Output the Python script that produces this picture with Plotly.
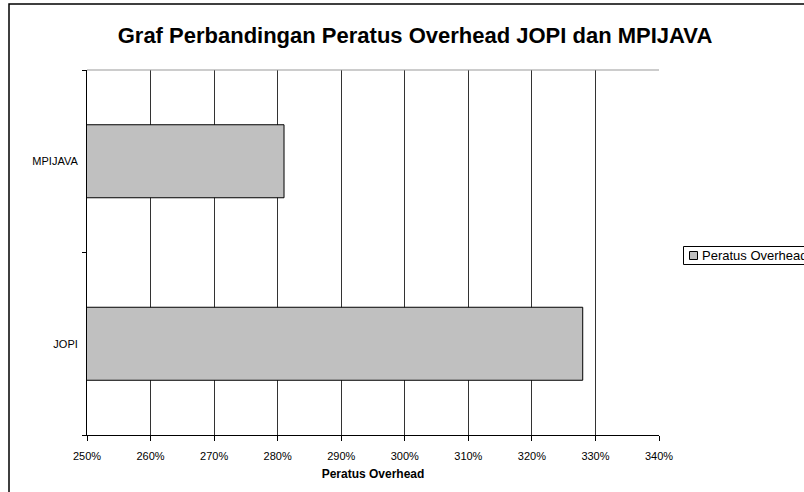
import plotly.graph_objects as go

categories = ["JOPI", "MPIJAVA"]
overhead = [3.28, 2.81]
series_name = "Peratus Overhead"
title_text = "Graf Perbandingan Peratus Overhead JOPI dan MPIJAVA"
x_title = "Peratus Overhead"

L, R, T, B = 87, 145, 70, 57
W, H = 804, 492
pw, ph = W - L - R, H - T - B

def px(x):
    return (x - L) / pw

def py(y):
    return (H - B - y) / ph

fig = go.Figure()
fig.add_trace(go.Bar(
    y=categories, x=overhead, orientation="h", name=series_name,
    marker=dict(color="#C0C0C0", line=dict(color="black", width=1)),
    showlegend=False,
))

font = "Liberation Sans, Arial, sans-serif"
fig.update_layout(
    width=W, height=H,
    margin=dict(l=L, r=R, t=T, b=B),
    paper_bgcolor="white", plot_bgcolor="white",
    bargap=0.6,
    font=dict(family=font, size=11, color="black"),
    title=dict(text="<b>" + title_text + "</b>", x=px(415), xref="paper", xanchor="center",
               y=1 - 35 / H, yanchor="middle", font=dict(size=22, family=font, color="black")),
    xaxis=dict(range=[2.5, 3.4], dtick=0.1, tick0=2.5, tickformat=".0%",
               showgrid=True, gridcolor="#333333", gridwidth=1,
               showline=True, linecolor="black", linewidth=1,
               ticks="outside", ticklen=5, tickcolor="black",
               ticklabelstandoff=6,
               zeroline=False,
               title=dict(text="<b>" + x_title + "</b>", standoff=8, font=dict(size=12)),
               tickfont=dict(size=11)),
    yaxis=dict(type="category", showgrid=False, showline=True, linecolor="black", linewidth=1,
               ticks="outside", ticklen=4, tickcolor="black", tickson="boundaries",
               ticklabelstandoff=6, tickfont=dict(size=11)),
    shapes=[
        # outer chart border (clipped by window)
        dict(type="rect", xref="paper", yref="paper", x0=px(9), x1=px(1000), y0=py(600), y1=py(4),
             line=dict(color="black", width=1.5), fillcolor="rgba(0,0,0,0)", layer="below"),
        # top plot-area edge
        dict(type="line", xref="paper", yref="paper", x0=0, x1=1, y0=1, y1=1,
             line=dict(color="#999999", width=1)),
        # legend box
        dict(type="rect", xref="paper", yref="paper", x0=px(683.5), x1=px(900), y0=py(264.5), y1=py(246.5),
             line=dict(color="black", width=1), fillcolor="white"),
        # legend marker
        dict(type="rect", xref="paper", yref="paper", x0=px(689.5), x1=px(697.5), y0=py(259.5), y1=py(251.5),
             line=dict(color="black", width=1), fillcolor="#C0C0C0"),
    ],
    annotations=[
        dict(text=series_name, xref="paper", yref="paper", x=px(700), y=py(255.5),
             xanchor="left", yanchor="middle", showarrow=False,
             font=dict(size=13, family=font, color="black")),
    ],
)

fig.write_html("out.html")
